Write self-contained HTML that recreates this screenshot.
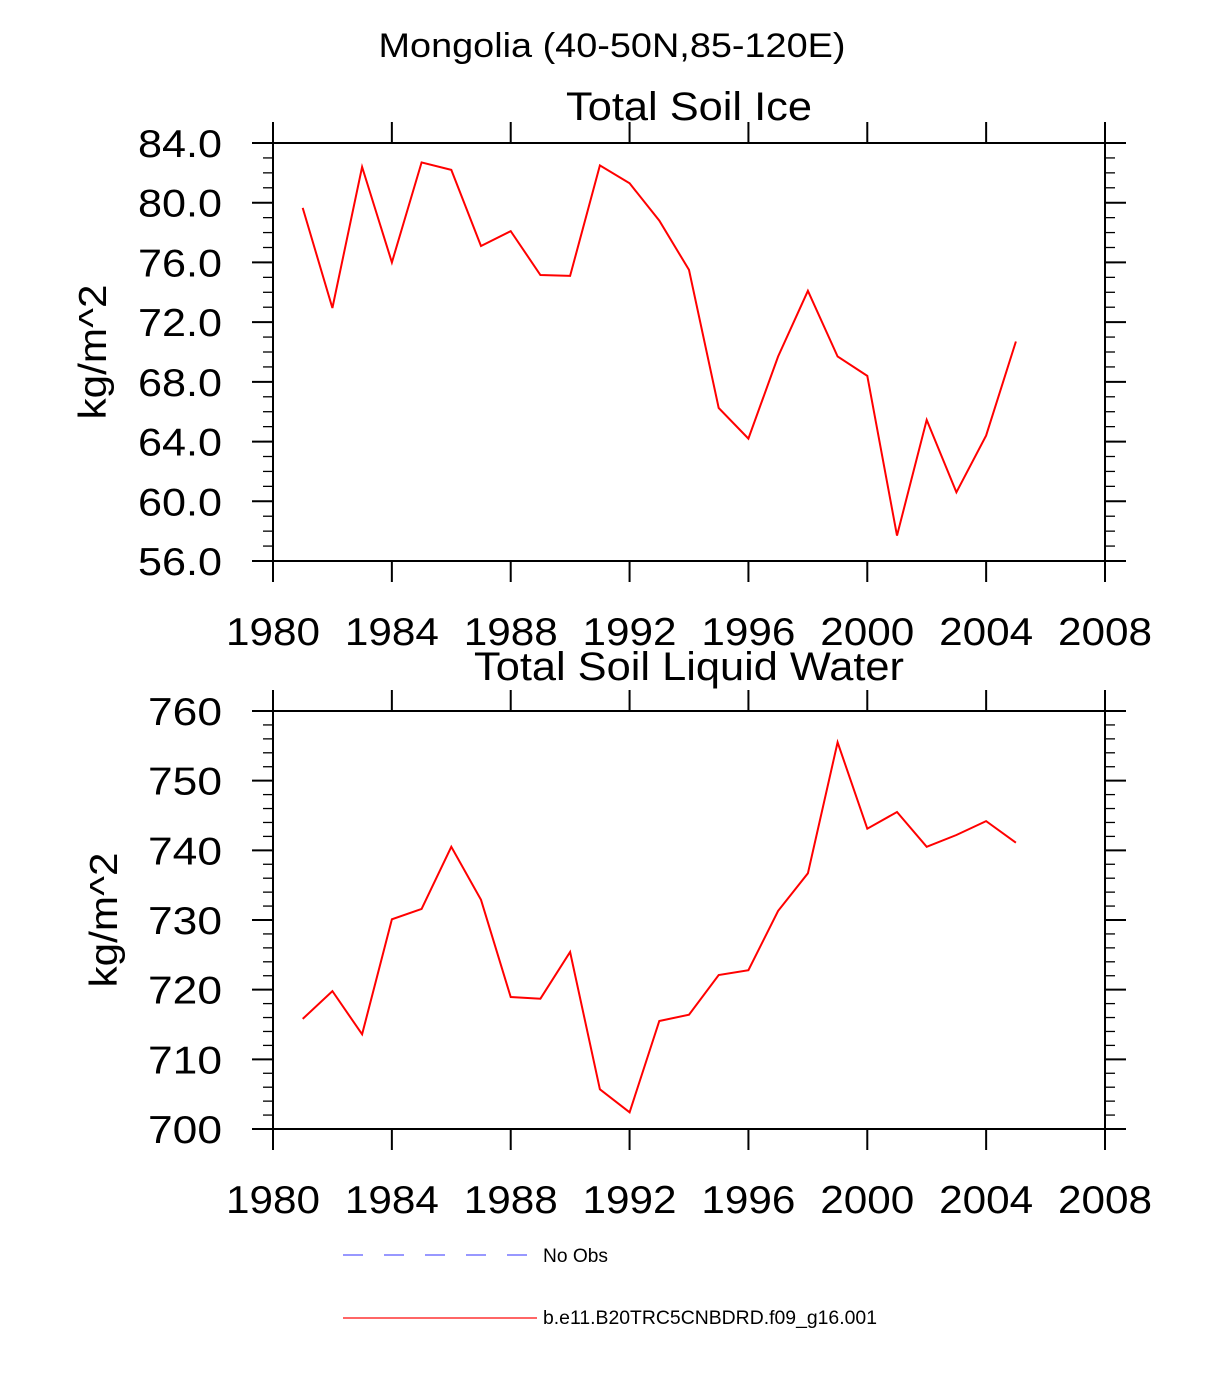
<!DOCTYPE html>
<html><head><meta charset="utf-8"><style>
body{margin:0;background:#fff}
svg{display:block;font-family:"Liberation Sans",sans-serif}
</style></head><body>
<svg id="s" width="1224" height="1384" viewBox="0 0 1224 1384" xmlns="http://www.w3.org/2000/svg">
<text x="612" y="57" font-size="34" text-anchor="middle" textLength="467" lengthAdjust="spacingAndGlyphs">Mongolia (40-50N,85-120E)</text>
<g>
<line x1="343" y1="1255" x2="530" y2="1255" stroke="#7777ff" stroke-width="1.5" stroke-dasharray="20,21"/>
<text x="543" y="1262" font-size="19" textLength="65" lengthAdjust="spacingAndGlyphs">No Obs</text>
<line x1="343" y1="1318" x2="537" y2="1318" stroke="#ff3333" stroke-width="1.5"/>
<text x="543" y="1324" font-size="19" textLength="334" lengthAdjust="spacingAndGlyphs">b.e11.B20TRC5CNBDRD.f09_g16.001</text>
</g>
</svg>
<script>
const years=[1981,1982,1983,1984,1985,1986,1987,1988,1989,1990,1991,1992,1993,1994,1995,1996,1997,1998,1999,2000,2001,2002,2003,2004,2005];
const iceValues=[79.65,72.95,82.4,76.0,82.7,82.2,77.1,78.1,75.16,75.1,82.5,81.3,78.8,75.5,66.25,64.2,69.7,74.1,69.7,68.4,57.7,65.45,60.6,64.4,70.7];
const liquidValues=[715.8,719.8,713.6,730.1,731.6,740.5,732.9,718.95,718.7,725.4,705.7,702.4,715.5,716.4,722.1,722.8,731.3,736.7,755.5,743.1,745.5,740.5,742.2,744.2,741.1];
const xTicks=[1980,1984,1988,1992,1996,2000,2004,2008];
const iceTicks=[56,60,64,68,72,76,80,84];
const liquidTicks=[700,710,720,730,740,750,760];
const svg=document.getElementById('s');
const NS='http://www.w3.org/2000/svg';
function mk(tag,attrs,parent){const e=document.createElementNS(NS,tag);for(const k in attrs)e.setAttribute(k,attrs[k]);(parent||svg).appendChild(e);return e;}
function panel(name,title,titleLen,titleY,top,bottom,ymin,ymax,yTicks,minorStep,vals,fmt,yTitleX){
  const L=273,R=1105;
  const sx=v=>L+(v-1980)/(28)*(R-L);
  const sy=v=>bottom-(v-ymin)/(ymax-ymin)*(bottom-top);
  const g=mk('g',{});
  
  
  const t=mk('text',{x:689,y:titleY,'font-size':40,'text-anchor':'middle',textLength:titleLen,lengthAdjust:'spacingAndGlyphs'},g);t.textContent=title;
  
  
  for(let v=ymin;v<=ymax+1e-9;v+=minorStep){
    const y=sy(v);
    const m1=mk('line',{x1:L-10,x2:L,y1:y,y2:y,stroke:'#000','stroke-width':1.3},g);
    
    
    const m2=mk('line',{x1:R,x2:R+10,y1:y,y2:y,stroke:'#000','stroke-width':1.3},g);
    
    
  }
  yTicks.forEach(v=>{
    const y=sy(v);
    const a=mk('line',{x1:L-21,x2:L,y1:y,y2:y,stroke:'#000','stroke-width':2},g);
    
    
    const b=mk('line',{x1:R,x2:R+21,y1:y,y2:y,stroke:'#000','stroke-width':2},g);
    
    
    const s=fmt(v);
    const tl=mk('text',{x:222,y:y+14,'font-size':39,'text-anchor':'end',textLength:s.length===4?84:74,lengthAdjust:'spacingAndGlyphs'},g);tl.textContent=s;
    
    
  });
  xTicks.forEach(v=>{
    const x=sx(v);
    const a=mk('line',{x1:x,x2:x,y1:top-21,y2:top,stroke:'#000','stroke-width':2},g);
    
    
    const b=mk('line',{x1:x,x2:x,y1:bottom,y2:bottom+21,stroke:'#000','stroke-width':2},g);
    
    
    const tl=mk('text',{x:x,y:bottom+84,'font-size':39,'text-anchor':'middle',textLength:94,lengthAdjust:'spacingAndGlyphs'},g);tl.textContent=v;
    
    
  });
  const fr=mk('rect',{x:L,y:top,width:R-L,height:bottom-top,fill:'none',stroke:'#000','stroke-width':2},g);
  
  
  const yt=mk('text',{x:0,y:0,'font-size':39,'text-anchor':'middle',textLength:135,lengthAdjust:'spacingAndGlyphs',transform:`translate(${yTitleX},${(top+bottom)/2}) rotate(-90)`},g);yt.textContent='kg/m^2';
  
  
  const pts=years.map((y,i)=>sx(y).toFixed(1)+','+sy(vals[i]).toFixed(1)).join(' ');
  const pl=mk('polyline',{points:pts,fill:'none',stroke:'#ff0000','stroke-width':2},g);
  
  
}
panel('soil-ice','Total Soil Ice',246,120,143,561,56,84,iceTicks,1,iceValues,v=>v.toFixed(1),106);
panel('soil-liquid','Total Soil Liquid Water',430,680,711,1129,700,760,liquidTicks,2,liquidValues,v=>String(v),117);
</script>
</body></html>
